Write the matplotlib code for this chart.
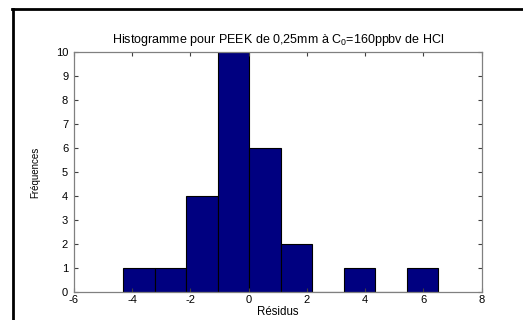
import matplotlib
matplotlib.use("Agg")
import matplotlib.pyplot as plt
from matplotlib.lines import Line2D

# histogram of residuals: 10 equal bins (MATLAB hist style)
bin_edges = [-4.30, -3.22, -2.14, -1.06, 0.02, 1.10, 2.18, 3.26, 4.34, 5.42, 6.50]
counts = [1, 1, 4, 10, 6, 2, 0, 1, 0, 1]
xticks = [-6, -4, -2, 0, 2, 4, 6, 8]
yticks = list(range(0, 11))

plt.rcParams["font.family"] = ["Liberation Sans", "DejaVu Sans"]
plt.rcParams["mathtext.fontset"] = "custom"
plt.rcParams["mathtext.rm"] = "Liberation Sans"
plt.rcParams["mathtext.it"] = "Liberation Sans"
plt.rcParams["axes.unicode_minus"] = False

fig = plt.figure(figsize=(5.23, 3.2), dpi=100)
ax = fig.add_axes([0.141, 0.0866, 0.780, 0.750])

widths = [bin_edges[i + 1] - bin_edges[i] for i in range(len(counts))]
ax.bar(bin_edges[:-1], counts, width=widths, align="edge",
       color="#000080", edgecolor="black", linewidth=0.8)

ax.set_xlim(-6, 8)
ax.set_ylim(0, 10)
ax.set_xticks(xticks)
ax.set_yticks(yticks)
ax.tick_params(direction="in", length=3, width=0.8, color="#404040",
               labelsize=8, top=True, right=True, pad=2)
ax.tick_params(axis="y", pad=4)
for s in ax.spines.values():
    s.set_color("#808080")
    s.set_linewidth(0.9)

ax.set_title("Histogramme pour PEEK de 0,25mm à C$_{0}$=160ppbv de HCl",
             fontsize=9, pad=7)
ax.set_xlabel("Résidus", fontsize=8.3, labelpad=1)
ax.set_ylabel("Fréquences", fontsize=7, labelpad=11)

# black frame around the top and left of the figure
fig.add_artist(Line2D([13 / 523, 13 / 523], [0, 1 - 9 / 320],
                      transform=fig.transFigure, color="black", linewidth=2))
fig.add_artist(Line2D([12 / 523, 1], [1 - 9 / 320, 1 - 9 / 320],
                      transform=fig.transFigure, color="black", linewidth=2))

fig.savefig("out.png", dpi=100)
